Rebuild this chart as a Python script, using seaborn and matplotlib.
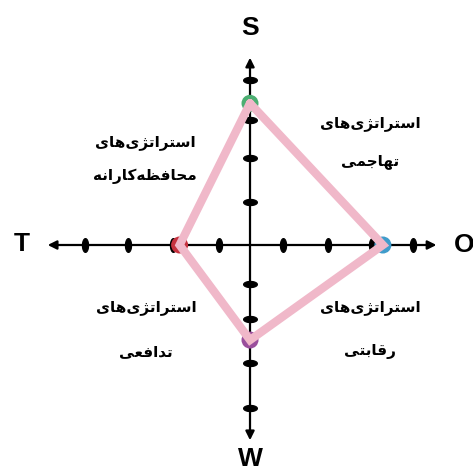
import numpy as np
import pandas as pd
import matplotlib
matplotlib.use("Agg")
import matplotlib.pyplot as plt
from matplotlib.path import Path
import seaborn as sns

# SWOT strategic position diagram (1 unit ~ 44 px)
axis_names = ["S", "O", "W", "T"]
axis_values = [3.22, 3.02, -2.16, -1.60]     # S, O up/right positive; W, T down/left negative
dot_colors = ["#4cae72", "#3f9ccb", "#9a4e9c", "#c6323f"]

x_ticks = [-3.75, -2.77, -1.75, -0.70, 0.75, 1.77, 2.77, 3.70]
y_ticks = [-3.70, -2.68, -1.68, -0.89, 0.98, 1.98, 2.84, 3.75]

# Persian labels, written in presentation forms (visual order) since matplotlib does no shaping
strategy_word = "\uFBFC\uFE8E\uFEEB\uFBFC\uFB8B\uFE97\uFE8D\uFEAE\uFE98\uFEB3\uFE8D"   # استراتژی‌های
quadrant_names = [
    "\uFEEA\uFEE7\uFE8D\uFEAD\uFE8E\uFB90\uFEEA\uFEC8\uFED3\uFE8E\uFEA4\uFEE3",   # محافظه‌کارانه
    "\uFBFD\uFEE4\uFE9F\uFE8E\uFEEC\uFE97",                                      # تهاجمی
    "\uFBFD\uFECC\uFED3\uFE8D\uFEAA\uFE97",                                      # تدافعی
    "\uFBFD\uFE98\uFE91\uFE8E\uFED7\uFEAD",                                      # رقابتی
]
quadrant_x = [-2.39, 2.73, -2.36, 2.73]
quadrant_y1 = [2.34, 2.77, -1.41, -1.41]
quadrant_y2 = [1.55, 1.89, -2.43, -2.43]

# points on the axes
px = [0, axis_values[1], 0, axis_values[3]]
py = [axis_values[0], 0, axis_values[2], 0]
pts = pd.DataFrame({"x": px, "y": py, "name": axis_names})
poly = pd.concat([pts, pts.iloc[[0]]], ignore_index=True)

sns.set_style("white")
plt.rcParams["font.family"] = ["Liberation Sans", "DejaVu Sans"]

fig = plt.figure(figsize=(4.73, 4.72), dpi=100)
ax = fig.add_axes([0, 0, 1, 1])
ax.set_xlim(-5.682, 5.068)
ax.set_ylim(-5.159, 5.568)
ax.axis("off")

# axes with arrow heads
arrow = dict(arrowstyle="<|-|>", color="black", lw=1.6, mutation_scale=13)
ax.annotate("", xy=(4.30, 0), xytext=(-4.66, 0), arrowprops=arrow)
ax.annotate("", xy=(0, 4.32), xytext=(0, -4.50), arrowprops=arrow)

# blob ticks
t = np.linspace(0, 2 * np.pi, 30)
vblob = Path(np.column_stack([0.45 * np.cos(t), np.sin(t)]))
hblob = Path(np.column_stack([np.cos(t), 0.45 * np.sin(t)]))
sns.scatterplot(x=x_ticks, y=[0] * len(x_ticks), marker=vblob, s=100,
                color="black", edgecolor="black", ax=ax, zorder=3)
sns.scatterplot(x=[0] * len(y_ticks), y=y_ticks, marker=hblob, s=100,
                color="black", edgecolor="black", ax=ax, zorder=3)

# coloured points
sns.scatterplot(data=pts, x="x", y="y", hue="name", palette=dict(zip(axis_names, dot_colors)),
                s=150, edgecolor="none", legend=False, ax=ax, zorder=4)

# pink polygon
sns.lineplot(data=poly, x="x", y="y", sort=False, estimator=None, color="#f0b8c9",
             lw=6, ax=ax, zorder=5, solid_joinstyle="miter")

# axis letters
lab_pos = {"S": (0, 4.93), "W": (0, -4.87), "T": (-5.18, 0.03), "O": (4.86, 0)}
for k, (x, y) in lab_pos.items():
    ax.text(x, y, k, fontsize=19, fontweight="bold", ha="center", va="center", color="black")

for name, x, y1, y2 in zip(quadrant_names, quadrant_x, quadrant_y1, quadrant_y2):
    ax.text(x, y1, strategy_word, fontsize=11, fontweight="bold", ha="center", va="center",
            color="black", family=["DejaVu Sans"])
    ax.text(x, y2, name, fontsize=11, fontweight="bold", ha="center", va="center",
            color="black", family=["DejaVu Sans"])

fig.savefig("out.png", dpi=100)
